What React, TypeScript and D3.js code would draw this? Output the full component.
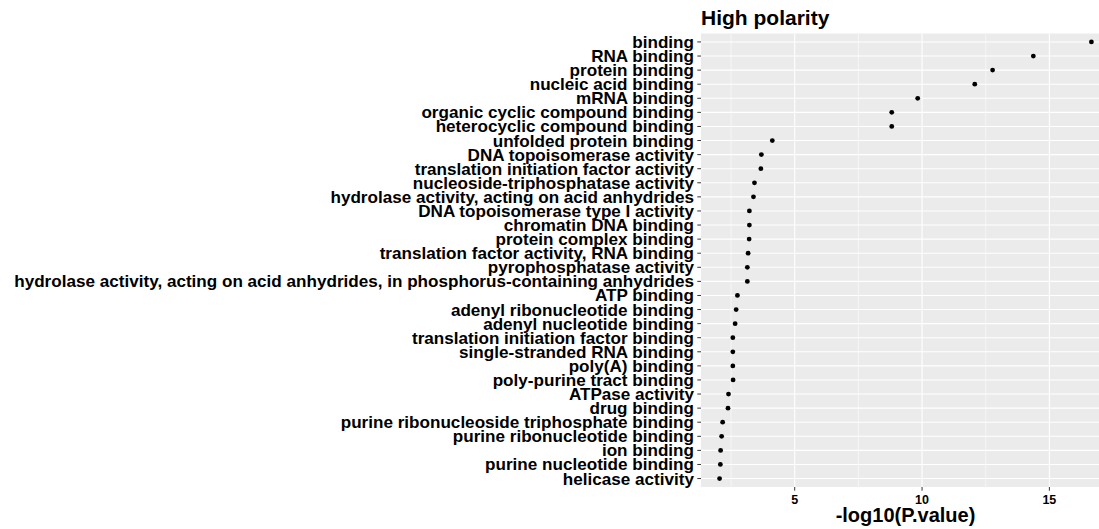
import React, { useEffect, useRef } from 'react';
import * as d3 from 'd3';

// GO terms, top to bottom
const terms = [
  'binding',
  'RNA binding',
  'protein binding',
  'nucleic acid binding',
  'mRNA binding',
  'organic cyclic compound binding',
  'heterocyclic compound binding',
  'unfolded protein binding',
  'DNA topoisomerase activity',
  'translation initiation factor activity',
  'nucleoside-triphosphatase activity',
  'hydrolase activity, acting on acid anhydrides',
  'DNA topoisomerase type I activity',
  'chromatin DNA binding',
  'protein complex binding',
  'translation factor activity, RNA binding',
  'pyrophosphatase activity',
  'hydrolase activity, acting on acid anhydrides, in phosphorus-containing anhydrides',
  'ATP binding',
  'adenyl ribonucleotide binding',
  'adenyl nucleotide binding',
  'translation initiation factor binding',
  'single-stranded RNA binding',
  'poly(A) binding',
  'poly-purine tract binding',
  'ATPase activity',
  'drug binding',
  'purine ribonucleoside triphosphate binding',
  'purine ribonucleotide binding',
  'ion binding',
  'purine nucleotide binding',
  'helicase activity',
];

// -log10(P.value), same order as terms
const logP = [
  16.65, 14.37, 12.77, 12.07, 9.83, 8.81, 8.81, 4.12, 3.69, 3.67, 3.42,
  3.38, 3.22, 3.22, 3.21, 3.17, 3.14, 3.14, 2.75, 2.7, 2.66, 2.57, 2.57,
  2.57, 2.58, 2.4, 2.38, 2.17, 2.13, 2.09, 2.08, 2.05,
];

const xTicks = [5, 10, 15];
const xMinor = [2.5, 7.5, 12.5, 17.5];

const W = 1099;
const H = 529;
const font = '"Liberation Sans", Arial, Helvetica, sans-serif';

export default function App() {
  const svgRef = useRef<SVGSVGElement>(null);

  useEffect(() => {
    const svg = d3.select(svgRef.current);
    svg.selectAll('*').remove();

    const left = 701;
    const right = 1110;
    const top = 33.5;
    const bottom = 487;

    // ggplot style 5% expansion
    const [lo, hi] = d3.extent(logP) as [number, number];
    const pad = (hi - lo) * 0.05;
    const x = d3.scaleLinear().domain([lo - pad, hi + pad]).range([left, right]);
    const y = d3.scalePoint<string>().domain(terms).range([top, bottom]).padding(0.6);

    const g = svg.append('g');

    g.append('rect')
      .attr('x', left)
      .attr('y', top)
      .attr('width', right - left)
      .attr('height', bottom - top)
      .attr('fill', '#EBEBEB');

    // minor grid
    g.selectAll('.minor')
      .data(xMinor)
      .enter()
      .append('line')
      .attr('x1', (d) => x(d))
      .attr('x2', (d) => x(d))
      .attr('y1', top)
      .attr('y2', bottom)
      .attr('stroke', '#fff')
      .attr('stroke-width', 0.55);

    // major grid
    g.selectAll('.majorx')
      .data(xTicks)
      .enter()
      .append('line')
      .attr('x1', (d) => x(d))
      .attr('x2', (d) => x(d))
      .attr('y1', top)
      .attr('y2', bottom)
      .attr('stroke', '#fff')
      .attr('stroke-width', 1.1);

    g.selectAll('.majory')
      .data(terms)
      .enter()
      .append('line')
      .attr('x1', left)
      .attr('x2', right)
      .attr('y1', (d) => y(d)!)
      .attr('y2', (d) => y(d)!)
      .attr('stroke', '#fff')
      .attr('stroke-width', 1.1);

    // points
    g.selectAll('circle')
      .data(terms)
      .enter()
      .append('circle')
      .attr('cx', (d, i) => x(logP[i]))
      .attr('cy', (d) => y(d)!)
      .attr('r', 2.4)
      .attr('fill', '#000');

    // y axis
    g.selectAll('.ytick')
      .data(terms)
      .enter()
      .append('line')
      .attr('x1', left - 3.7)
      .attr('x2', left)
      .attr('y1', (d) => y(d)!)
      .attr('y2', (d) => y(d)!)
      .attr('stroke', '#333')
      .attr('stroke-width', 1);

    g.selectAll('.ylab')
      .data(terms)
      .enter()
      .append('text')
      .attr('x', left - 7)
      .attr('y', (d) => y(d)! + 6)
      .attr('text-anchor', 'end')
      .style('font-family', font)
      .style('font-weight', 'bold')
      .style('font-size', '17.1px')
      .style('fill', '#000')
      .text((d) => d);

    // x axis
    g.selectAll('.xtick')
      .data(xTicks)
      .enter()
      .append('line')
      .attr('x1', (d) => x(d))
      .attr('x2', (d) => x(d))
      .attr('y1', bottom)
      .attr('y2', bottom + 3.7)
      .attr('stroke', '#333')
      .attr('stroke-width', 1);

    g.selectAll('.xlab')
      .data(xTicks)
      .enter()
      .append('text')
      .attr('x', (d) => x(d))
      .attr('y', 503.5)
      .attr('text-anchor', 'middle')
      .style('font-family', font)
      .style('font-weight', 'bold')
      .style('font-size', '12.5px')
      .style('fill', '#000')
      .text((d) => d);

    // titles
    g.append('text')
      .attr('x', (left + right) / 2)
      .attr('y', 522)
      .attr('text-anchor', 'middle')
      .style('font-family', font)
      .style('font-weight', 'bold')
      .style('font-size', '20px')
      .style('fill', '#000')
      .text('-log10(P.value)');

    g.append('text')
      .attr('x', left)
      .attr('y', 25)
      .style('font-family', font)
      .style('font-weight', 'bold')
      .style('font-size', '21px')
      .style('fill', '#000')
      .text('High polarity');
  }, []);

  return (
    <svg
      ref={svgRef}
      width={W}
      height={H}
      style={{ position: 'absolute', left: 0, top: 0, background: '#fff' }}
    />
  );
}
